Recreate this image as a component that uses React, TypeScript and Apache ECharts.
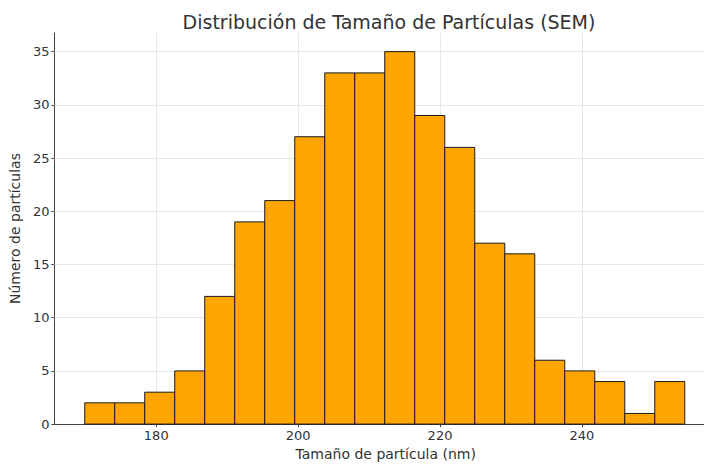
import React, { useEffect, useRef } from "react";
import * as echarts from "echarts";

const title = "Distribución de Tamaño de Partículas (SEM)";
const xName = "Tamaño de partícula (nm)";
const yName = "Número de partículas";

// histogram: first bin edge and bin width (nm), counts per bin
const binStart = 169.92;
const binWidth = 4.229;
const counts = [2, 2, 3, 5, 12, 19, 21, 27, 33, 33, 35, 29, 26, 17, 16, 6, 5, 4, 1, 4];

const xTicks = [180, 200, 220, 240];
const yTicks = [0, 5, 10, 15, 20, 25, 30, 35];
const xMin = 165.65;
const xMax = 257.21;
const yMax = 36.75;

const FONT = "DejaVu Sans";

export default function App() {
  const ref = useRef<HTMLDivElement>(null);
  useEffect(() => {
    if (!ref.current) return;
    const chart = echarts.init(ref.current, undefined, { renderer: "svg" });
    const edges = counts.map((_, i) => binStart + i * binWidth);
    const data = counts.map((c, i) => [edges[i], edges[i] + binWidth, c]);
    chart.setOption({
      animation: false,
      backgroundColor: "#ffffff",
      textStyle: { fontFamily: FONT },
      title: {
        text: title,
        left: 384,
        textAlign: "center",
        top: 7,
        textStyle: { fontFamily: FONT, fontSize: 19, fontWeight: "normal", color: "#333" },
      },
      grid: { left: 53, right: 0, top: 33, bottom: 37, containLabel: false },
      xAxis: {
        type: "value",
        min: xMin,
        max: xMax,
        name: xName,
        nameLocation: "middle",
        nameGap: 20,
        nameTextStyle: { fontFamily: FONT, fontSize: 14, color: "#333", padding: [0, 0, 0, 13] },
        axisLine: { show: true, onZero: false, lineStyle: { color: "#444", width: 1 } },
        axisTick: { show: true, inside: false, length: 3, customValues: xTicks, lineStyle: { color: "#444" } },
        axisLabel: { customValues: xTicks, fontFamily: FONT, fontSize: 13, color: "#333", margin: 5 },
        splitLine: { show: false },
      },
      yAxis: {
        type: "value",
        min: 0,
        max: yMax,
        name: yName,
        nameLocation: "middle",
        nameGap: 27,
        nameRotate: 90,
        nameTextStyle: { fontFamily: FONT, fontSize: 14, color: "#333" },
        axisLine: { show: true, lineStyle: { color: "#444", width: 1 } },
        axisTick: { show: true, inside: false, length: 3, customValues: yTicks, lineStyle: { color: "#444" } },
        axisLabel: { customValues: yTicks, fontFamily: FONT, fontSize: 13, color: "#333", margin: 5 },
        splitLine: { show: false },
      },
      series: [
        {
          type: "line",
          data: [],
          z: 1,
          silent: true,
          markLine: {
            silent: true,
            z: 1,
            symbol: "none",
            label: { show: false },
            lineStyle: { color: "#e6e6e6", type: "solid", width: 1 },
            data: [
              ...yTicks.filter((v) => v > 0).map((v) => ({ yAxis: v })),
              ...xTicks.map((v) => ({ xAxis: v })),
            ],
          },
        },
        {
          type: "custom",
          z: 3,
          data,
          encode: { x: [0, 1], y: 2 },
          renderItem: (params: any, api: any) => {
            const x0 = api.value(0);
            const x1 = api.value(1);
            const y = api.value(2);
            const p0 = api.coord([x0, y]);
            const p1 = api.coord([x1, 0]);
            return {
              type: "rect",
              shape: { x: p0[0], y: p0[1], width: p1[0] - p0[0], height: p1[1] - p0[1] },
              style: { fill: "#FFA500", stroke: "#1a1a1a", lineWidth: 1 },
            };
          },
        },
      ],
    });
    return () => chart.dispose();
  }, []);
  return <div ref={ref} style={{ width: 704, height: 466, position: "absolute", left: 0, top: 0 }} />;
}
